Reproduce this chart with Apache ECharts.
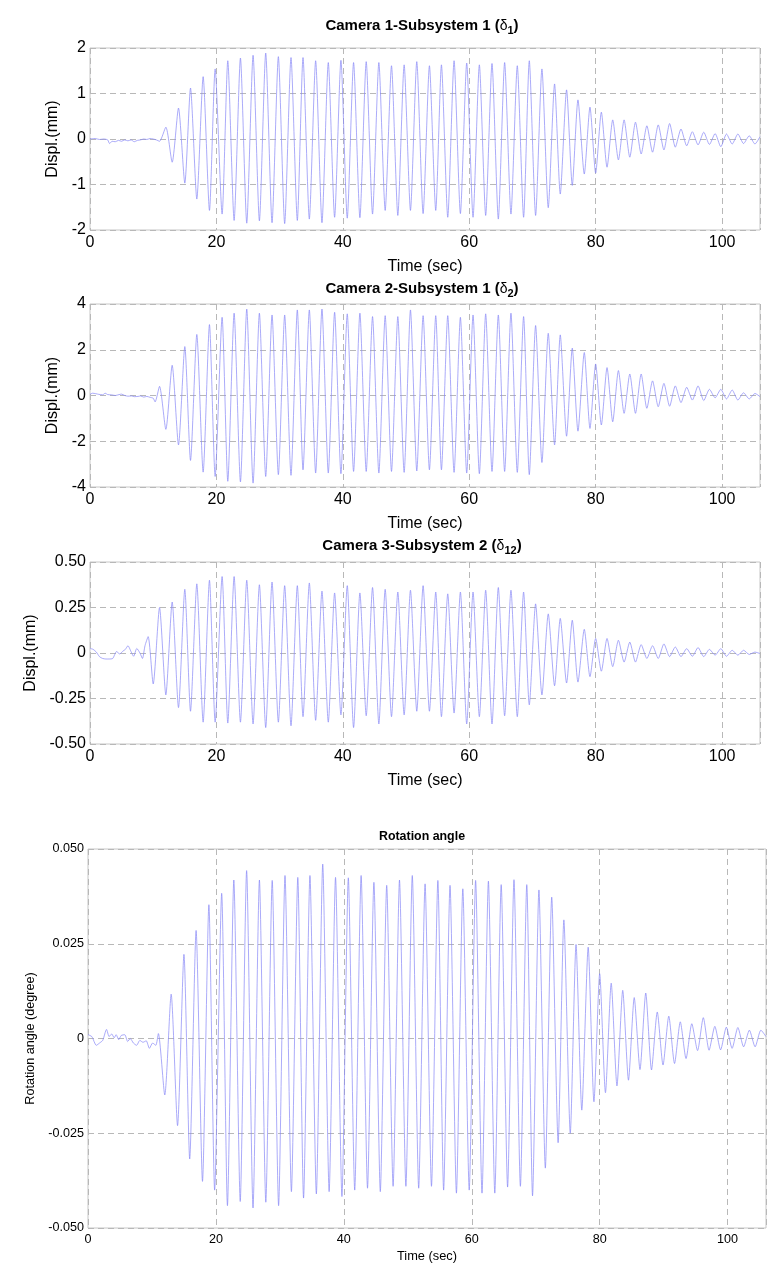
<!DOCTYPE html>
<html><head><meta charset="utf-8">
<script src="https://cdn.jsdelivr.net/npm/echarts@6.0.0/dist/echarts.min.js"></script>
<style>html,body{margin:0;padding:0;background:#fff}#c{width:778px;height:1277px}</style>
</head><body><div id="c"></div>
<script>
// ---- data ----
const timeTicks = [0, 20, 40, 60, 80, 100];
const panelTitles = ['Camera 1-Subsystem 1 (δ', 'Camera 2-Subsystem 1 (δ', 'Camera 3-Subsystem 2 (δ', 'Rotation angle'];
const panelSubs = ['1', '2', '12', ''];
const yNames = ['Displ.(mm)', 'Displ.(mm)', 'Displ.(mm)', 'Rotation angle (degree)'];

// times of successive extremes (half-cycles), shared by all four records
const extremeTimes = [
  11.0, 12.0, 13.0, 14.0, 15.0, 15.9, 16.9, 17.9, 18.9, 19.8,
  20.9, 21.8, 22.8, 23.8, 24.8, 25.8, 26.8, 27.8, 28.8, 29.8,
  30.8, 31.8, 32.8, 33.7, 34.7, 35.7, 36.7, 37.7, 38.7, 39.7,
  40.7, 41.7, 42.7, 43.7, 44.7, 45.7, 46.7, 47.7, 48.7, 49.7,
  50.7, 51.7, 52.7, 53.7, 54.7, 55.6, 56.6, 57.6, 58.6, 59.6,
  60.6, 61.6, 62.6, 63.6, 64.6, 65.6, 66.6, 67.6, 68.6, 69.5,
  70.5, 71.5, 72.5, 73.5, 74.4, 75.4, 76.3, 77.2, 78.2, 79.1,
  80.0, 80.9, 81.8, 82.7, 83.6, 84.5, 85.4, 86.3, 87.2, 88.1,
  89.0, 89.9, 90.8, 91.7, 92.6, 93.5, 94.4, 95.3, 96.2, 97.1,
  98.0, 98.9, 99.8, 100.7, 101.6, 102.5, 103.4, 104.3, 105.2, 106.0
];

// Camera 1 (delta1), mm
const cam1Quiet = [[0,0],[0.8,0.01],[1.5,-0.01],[2.2,0],[2.8,-0.02],[3.1,-0.1],[3.5,-0.05],[4,-0.06],[4.5,-0.03],[5,-0.05],[5.5,-0.02],[6,-0.04],[6.5,-0.02],[7,-0.06],[7.5,-0.03],[8,-0.02],[8.5,0],[9,-0.01],[9.5,0.01],[10,0],[10.5,-0.02]];
const cam1Extremes = [
  -0.05, 0.26, -0.51, 0.68, -0.97, 1.12, -1.32, 1.37, -1.57, 1.54,
  -1.65, 1.72, -1.79, 1.78, -1.85, 1.84, -1.80, 1.89, -1.84, 1.81,
  -1.86, 1.79, -1.79, 1.79, -1.76, 1.72, -1.84, 1.68, -1.72, 1.73,
  -1.74, 1.68, -1.73, 1.70, -1.65, 1.68, -1.57, 1.61, -1.68, 1.63,
  -1.57, 1.70, -1.64, 1.61, -1.57, 1.63, -1.72, 1.72, -1.64, 1.67,
  -1.72, 1.63, -1.68, 1.66, -1.76, 1.68, -1.65, 1.61, -1.72, 1.72,
  -1.68, 1.54, -1.51, 1.21, -1.21, 1.08, -1.02, 0.86, -0.77, 0.70,
  -0.75, 0.59, -0.62, 0.42, -0.46, 0.42, -0.40, 0.37, -0.33, 0.29,
  -0.29, 0.31, -0.24, 0.34, -0.18, 0.22, -0.15, 0.16, -0.13, 0.15,
  -0.12, 0.12, -0.17, 0.11, -0.11, 0.11, -0.10, 0.07, -0.11, 0.05
];

// Camera 2 (delta2), mm
const cam2Quiet = [[0,0.05],[0.4,0.1],[0.9,0.08],[1.4,0.05],[2.0,0.03],[2.4,0.1],[2.8,0.04],[3.4,0.03],[4.0,0.0],[4.6,0.04],[5.0,0.06],[5.5,0.0],[6.0,-0.03],[6.6,-0.02],[7.0,-0.05],[7.6,-0.04],[8.0,-0.02],[8.5,-0.07],[9.0,-0.04],[9.5,-0.08],[10.0,-0.12],[10.3,-0.28]];
const cam2Extremes = [
  0.40, -1.48, 1.32, -2.16, 2.14, -2.84, 2.67, -3.35, 3.10, -3.54,
  3.42, -3.75, 3.60, -3.78, 3.78, -3.83, 3.60, -3.54, 3.52, -3.46,
  3.52, -3.49, 3.74, -3.25, 3.74, -3.39, 3.78, -3.39, 3.64, -3.42,
  3.57, -3.32, 3.60, -3.32, 3.45, -3.39, 3.49, -3.32, 3.45, -3.36,
  3.74, -3.30, 3.49, -3.25, 3.49, -3.25, 3.49, -3.36, 3.42, -3.39,
  3.52, -3.42, 3.57, -3.32, 3.52, -3.32, 3.60, -3.36, 3.45, -3.46,
  3.06, -2.93, 2.72, -2.16, 2.65, -1.78, 2.07, -1.56, 1.88, -1.44,
  1.38, -1.29, 1.22, -1.15, 1.09, -0.78, 0.94, -0.78, 0.94, -0.56,
  0.64, -0.49, 0.53, -0.47, 0.42, -0.31, 0.36, -0.20, 0.42, -0.22,
  0.27, -0.10, 0.27, -0.15, 0.24, -0.20, 0.12, -0.15, 0.09, -0.05
];

// Camera 3 (delta12), mm
const cam3Quiet = [[0,0.025],[0.5,0.02],[1.0,0.005],[1.5,-0.02],[2.0,-0.03],[2.5,-0.033],[3.0,-0.033],[3.6,-0.03],[4.2,0.008],[4.7,-0.005],[5.2,0.01],[5.6,0.02],[6.0,0.04],[6.5,0.007],[6.9,-0.018],[7.4,0.025],[7.9,0.0],[8.3,-0.03],[8.7,0.04],[9.2,0.09],[10.0,-0.17]];
const cam3Extremes = [
  0.25, -0.23, 0.28, -0.30, 0.35, -0.32, 0.38, -0.38, 0.40, -0.38,
  0.42, -0.385, 0.42, -0.38, 0.40, -0.39, 0.375, -0.41, 0.39, -0.38,
  0.37, -0.40, 0.37, -0.35, 0.385, -0.37, 0.34, -0.38, 0.33, -0.34,
  0.37, -0.41, 0.33, -0.345, 0.36, -0.39, 0.35, -0.35, 0.335, -0.34,
  0.345, -0.32, 0.37, -0.32, 0.335, -0.35, 0.325, -0.33, 0.335, -0.39,
  0.335, -0.35, 0.345, -0.39, 0.36, -0.345, 0.345, -0.35, 0.335, -0.285,
  0.27, -0.23, 0.215, -0.18, 0.19, -0.165, 0.18, -0.16, 0.13, -0.13,
  0.08, -0.10, 0.08, -0.075, 0.07, -0.05, 0.06, -0.05, 0.046, -0.03,
  0.04, -0.03, 0.05, -0.02, 0.033, -0.02, 0.024, -0.018, 0.03, -0.02,
  0.02, -0.012, 0.024, -0.018, 0.015, -0.012, 0.015, -0.008, 0.005, -0.003
];

// Rotation angle, degree
const rotQuiet = [[0,0.001],[0.6,0.0005],[1.3,-0.0018],[1.8,-0.0012],[2.3,-0.0005],[2.9,0.0024],[3.3,0.0005],[3.7,0.0012],[4.1,0.0002],[4.4,0.001],[4.8,-0.0003],[5.2,0.0008],[5.75,0.001],[6.2,-0.0008],[6.6,0.0],[7.1,-0.0012],[7.6,-0.0018],[8.1,-0.0005],[8.6,-0.001],[9.1,-0.0006],[9.6,-0.0026],[10.1,-0.0012],[10.6,-0.0018]];
const rotExtremes = [
  0.0013, -0.0149, 0.0117, -0.0230, 0.0222, -0.0318, 0.0285, -0.0377, 0.0353, -0.0400,
  0.0383, -0.0441, 0.0418, -0.0430, 0.0443, -0.0447, 0.0418, -0.0432, 0.0417, -0.0441,
  0.0430, -0.0404, 0.0425, -0.0421, 0.0430, -0.0410, 0.0460, -0.0404, 0.0425, -0.0417,
  0.0424, -0.0400, 0.0430, -0.0395, 0.0412, -0.0404, 0.0404, -0.0390, 0.0418, -0.0390,
  0.0430, -0.0395, 0.0408, -0.0390, 0.0417, -0.0400, 0.0404, -0.0408, 0.0395, -0.0400,
  0.0417, -0.0408, 0.0415, -0.0408, 0.0406, -0.0392, 0.0419, -0.0390, 0.0406, -0.0415,
  0.0392, -0.0342, 0.0373, -0.0275, 0.0313, -0.0250, 0.0248, -0.0189, 0.0241, -0.0167,
  0.0171, -0.0143, 0.0146, -0.0125, 0.0127, -0.0110, 0.0108, -0.0082, 0.0120, -0.0083,
  0.0070, -0.0070, 0.0059, -0.0066, 0.0044, -0.0053, 0.0039, -0.0032, 0.0055, -0.0031,
  0.0032, -0.0030, 0.0030, -0.0026, 0.0029, -0.0022, 0.0022, -0.0022, 0.0022, 0.0005
];

const yRanges = [[-2, 2, 1], [-4, 4, 2], [-0.5, 0.5, 0.25], [-0.05, 0.05, 0.025]];
const yDecimals = [0, 0, 2, 3];

// ---- chart ----
const FONT = '"Liberation Sans", Arial, Helvetica, sans-serif';
function build(quiet, ext) {
  return quiet.concat(extremeTimes.map((t, i) => [t, ext[i]]));
}
const records = [build(cam1Quiet, cam1Extremes), build(cam2Quiet, cam2Extremes),
                 build(cam3Quiet, cam3Extremes), build(rotQuiet, rotExtremes)];

const grids = [
  {left: 90, top: 48, width: 670, height: 182},
  {left: 90, top: 304, width: 670, height: 183},
  {left: 90, top: 562, width: 670, height: 182},
  {left: 88, top: 849, width: 678, height: 379}
];
const big = [true, true, true, false];
const titleTops = [16, 279, 536, 827];

const gridLine = {show: true, lineStyle: {color: '#b8b8b8', type: [6, 4], width: 1}};

const option = {
  animation: false,
  backgroundColor: '#ffffff',
  title: panelTitles.map((txt, i) => {
    const fs = big[i] ? 15 : 12.4;
    const text = panelSubs[i] ? '{t|' + txt.slice(0, -1) + '}{d|δ}{s|' + panelSubs[i] + '}{t|)}' : '{t|' + txt + '}';
    return {
      text: text, left: 422, top: titleTops[i], textAlign: 'center', padding: 0,
      textStyle: {
        fontFamily: FONT, fontSize: fs, fontWeight: 'bold', color: '#000', lineHeight: 20,
        rich: {
          t: {fontFamily: FONT, fontSize: fs, fontWeight: 'bold', color: '#000', lineHeight: 20, verticalAlign: 'middle'},
          d: {fontFamily: FONT, fontSize: fs - 1, fontWeight: 'normal', color: '#000', lineHeight: 20, verticalAlign: 'middle'},
          s: {fontFamily: FONT, fontSize: 11, fontWeight: 'bold', color: '#000', lineHeight: 8, verticalAlign: 'bottom'}
        }
      }
    };
  }),
  grid: grids.map(g => Object.assign({show: true, borderColor: '#c6c6c6', borderWidth: 1, backgroundColor: '#fff'}, g)),
  xAxis: grids.map((g, i) => ({
    type: 'value', gridIndex: i, min: timeTicks[0], max: 106, interval: timeTicks[1] - timeTicks[0],
    axisLine: {show: false}, axisTick: {show: false},
    axisLabel: {fontFamily: FONT, fontSize: big[i] ? 16 : 12.6, color: '#000', margin: 5, showMaxLabel: false},
    splitLine: gridLine,
    name: 'Time (sec)', nameLocation: 'middle', nameGap: big[i] ? 29 : 22,
    nameTextStyle: {fontFamily: FONT, fontSize: big[i] ? 16 : 12.8, color: '#000'}
  })),
  yAxis: grids.map((g, i) => ({
    type: 'value', gridIndex: i, min: yRanges[i][0], max: yRanges[i][1], interval: yRanges[i][2],
    axisLine: {show: false}, axisTick: {show: false},
    axisLabel: {fontFamily: FONT, fontSize: big[i] ? 16 : 12.6, color: '#000', margin: 4,
      formatter: v => Math.abs(v) < 1e-9 ? '0' : v.toFixed(yDecimals[i])},
    splitLine: gridLine,
    name: yNames[i], nameLocation: 'middle', nameGap: big[i] ? 28 : 43,
    nameTextStyle: {fontFamily: FONT, fontSize: big[i] ? 16 : 12.6, color: '#000'}
  })),
  series: records.map((d, i) => ({
    type: 'line', xAxisIndex: i, yAxisIndex: i, data: d, showSymbol: false, silent: true,
    smooth: 0.22,
    lineStyle: {color: '#8686f6', width: 0.7}, z: 3
  }))
};

echarts.init(document.getElementById('c'), null, {renderer: 'canvas'}).setOption(option);
</script>
</body></html>
